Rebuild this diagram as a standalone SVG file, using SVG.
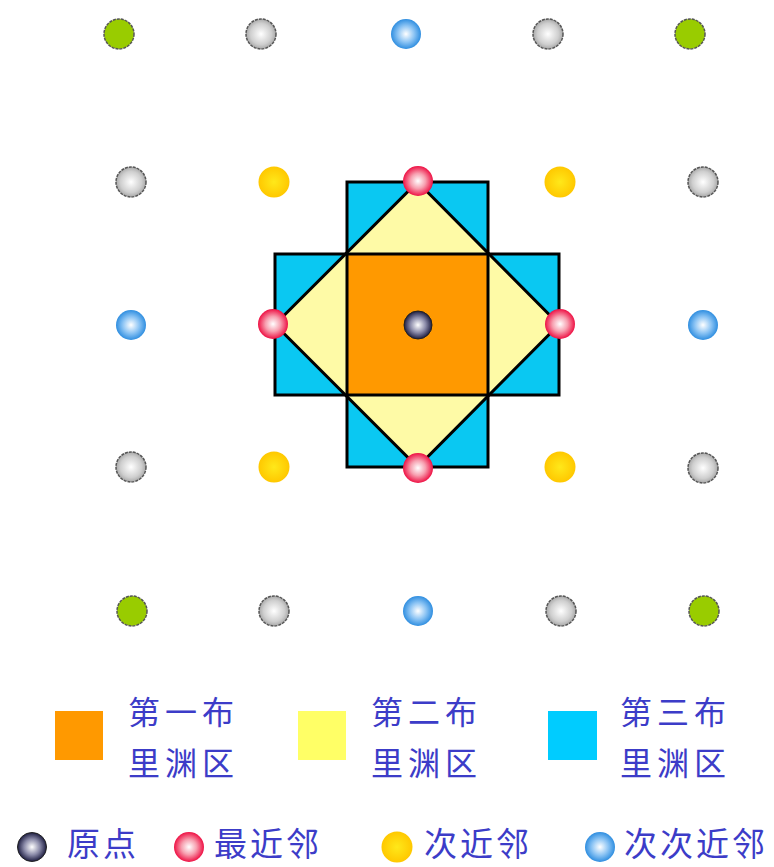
<svg xmlns="http://www.w3.org/2000/svg" width="774" height="867" viewBox="0 0 774 867">
<defs>
<radialGradient id="gGray" cx="50%" cy="50%" r="50%"><stop offset="0" stop-color="#ffffff"/><stop offset="0.7" stop-color="#cfcfcf"/><stop offset="1" stop-color="#a8a8a8"/></radialGradient>
<radialGradient id="gBlue" cx="50%" cy="50%" r="50%"><stop offset="0" stop-color="#ffffff"/><stop offset="0.55" stop-color="#8cc4f4"/><stop offset="1" stop-color="#2f8ee0"/></radialGradient>
<radialGradient id="gRed" cx="50%" cy="50%" r="50%"><stop offset="0" stop-color="#ffffff"/><stop offset="0.5" stop-color="#f7a0b0"/><stop offset="1" stop-color="#ee1144"/></radialGradient>
<radialGradient id="gYellow" cx="50%" cy="50%" r="50%"><stop offset="0" stop-color="#ffe81a"/><stop offset="1" stop-color="#ffc800"/></radialGradient>
<radialGradient id="gNavy" cx="50%" cy="50%" r="50%"><stop offset="0" stop-color="#ffffff"/><stop offset="0.55" stop-color="#8a8aa8"/><stop offset="1" stop-color="#1c1c40"/></radialGradient>
</defs>
<style>
.gray{fill:url(#gGray);stroke:#555;stroke-width:1.5;stroke-dasharray:3 1}
.green{fill:#99cc00;stroke:#555;stroke-width:1.5;stroke-dasharray:3 1}
.blue{fill:url(#gBlue)}
.red{fill:url(#gRed)}
.yellow{fill:url(#gYellow)}
.navy{fill:url(#gNavy);stroke:#222;stroke-width:1}
.zone{stroke:#000;stroke-width:3;stroke-linejoin:miter}
.bz3{fill:#0ac8f2}
.bz2{fill:#fefaa6}
.bz1{fill:#ff9900}
.lbl{font-family:"Noto Sans CJK SC","Noto Sans CJK JP",sans-serif;fill:#3c3cc8}
.l1{font-size:32px;letter-spacing:5px}
.l2{font-size:33px;letter-spacing:3px}
</style>
<rect width="774" height="867" fill="#ffffff"/>
<g id="zones">
<g id="zone3">
<rect class="zone bz3" x="347" y="182" width="141" height="72"/>
<rect class="zone bz3" x="347" y="395" width="141" height="72"/>
<rect class="zone bz3" x="275" y="254" width="72" height="141"/>
<rect class="zone bz3" x="488" y="254" width="71" height="141"/>
</g>
<g id="zone2"><polygon class="zone bz2" points="417.5,182 559,324.5 417.5,467 275,324.5"/></g>
<g id="zone1"><rect class="zone bz1" x="347" y="254" width="141" height="141"/></g>
</g>
<g id="lattice">
<g id="p11"><circle class="green" cx="119" cy="34" r="15"/></g>
<g id="p12"><circle class="gray" cx="261" cy="34" r="15"/></g>
<g id="p13"><circle class="blue" cx="406" cy="34" r="15"/></g>
<g id="p14"><circle class="gray" cx="548" cy="34" r="15"/></g>
<g id="p15"><circle class="green" cx="690" cy="34" r="15"/></g>
<g id="p21"><circle class="gray" cx="131" cy="182" r="15"/></g>
<g id="p22"><circle class="yellow" cx="274" cy="182" r="15.5"/></g>
<g id="p23"><circle class="red" cx="418" cy="181" r="15"/></g>
<g id="p24"><circle class="yellow" cx="560" cy="182" r="15.5"/></g>
<g id="p25"><circle class="gray" cx="703" cy="182" r="15"/></g>
<g id="p31"><circle class="blue" cx="131" cy="325" r="15"/></g>
<g id="p32"><circle class="red" cx="273" cy="324" r="15"/></g>
<g id="p33"><circle class="navy" cx="418" cy="325" r="14"/></g>
<g id="p34"><circle class="red" cx="560" cy="324" r="15"/></g>
<g id="p35"><circle class="blue" cx="703" cy="325" r="15"/></g>
<g id="p41"><circle class="gray" cx="131" cy="467" r="15"/></g>
<g id="p42"><circle class="yellow" cx="274" cy="467" r="15.5"/></g>
<g id="p43"><circle class="red" cx="418" cy="468" r="15"/></g>
<g id="p44"><circle class="yellow" cx="560" cy="467" r="15.5"/></g>
<g id="p45"><circle class="gray" cx="703" cy="468" r="15"/></g>
<g id="p51"><circle class="green" cx="132" cy="611" r="15"/></g>
<g id="p52"><circle class="gray" cx="274" cy="611" r="15"/></g>
<g id="p53"><circle class="blue" cx="418" cy="611" r="15"/></g>
<g id="p54"><circle class="gray" cx="561" cy="611" r="15"/></g>
<g id="p55"><circle class="green" cx="704" cy="611" r="15"/></g>
</g>
<g id="legend-zones">
<g id="lz1"><rect class="bz1" x="55" y="711" width="48" height="49"/><text class="lbl l1" x="128" y="724">第一布</text><text class="lbl l1" x="128" y="775">里渊区</text></g>
<g id="lz2"><rect fill="#ffff66" x="298" y="711" width="48" height="49"/><text class="lbl l1" x="371" y="724">第二布</text><text class="lbl l1" x="371" y="775">里渊区</text></g>
<g id="lz3"><rect fill="#00ccff" x="548" y="711" width="49" height="49"/><text class="lbl l1" x="620" y="724">第三布</text><text class="lbl l1" x="620" y="775">里渊区</text></g>
</g>
<g id="legend-points">
<g id="lp1"><circle class="navy" cx="32" cy="847" r="14.5"/><text class="lbl l2" x="67" y="856">原点</text></g>
<g id="lp2"><circle class="red" cx="189" cy="847" r="15"/><text class="lbl l2" x="214" y="856">最近邻</text></g>
<g id="lp3"><circle class="yellow" cx="397" cy="847" r="15.5"/><text class="lbl l2" x="424" y="856">次近邻</text></g>
<g id="lp4"><circle class="blue" cx="600" cy="847" r="15"/><text class="lbl l2" x="624" y="856">次次近邻</text></g>
</g>
</svg>
